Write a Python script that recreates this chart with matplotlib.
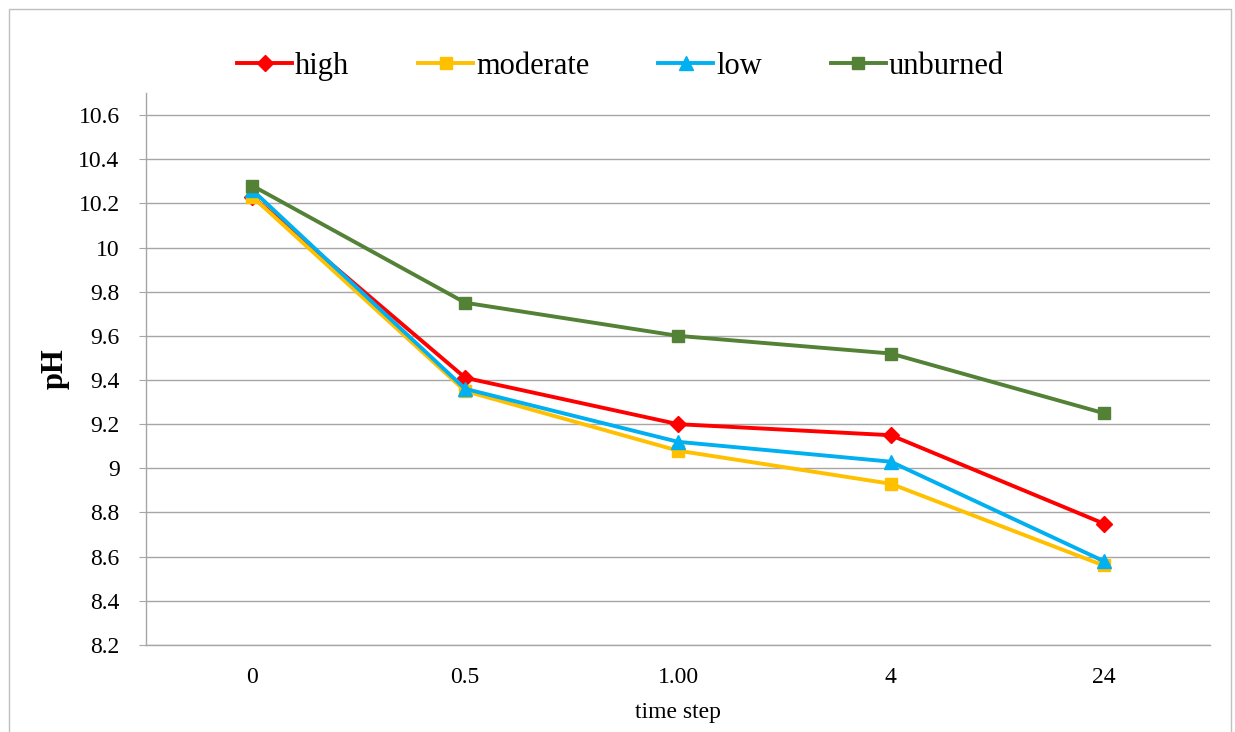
import matplotlib.pyplot as plt
from matplotlib.patches import Rectangle

plt.rcParams['font.family'] = ['Liberation Serif', 'DejaVu Serif']

# data
time_labels = ['0', '0.5', '1.00', '4', '24']
high = [10.23, 9.41, 9.20, 9.15, 8.75]
moderate = [10.23, 9.35, 9.08, 8.93, 8.56]
low = [10.26, 9.36, 9.12, 9.03, 8.58]
unburned = [10.28, 9.75, 9.60, 9.52, 9.25]

series = [
    ('high', high, '#FF0000', 'D', 8),
    ('moderate', moderate, '#FFC000', 's', 9),
    ('low', low, '#00B0F0', '^', 10),
    ('unburned', unburned, '#538135', 's', 9),
]

fig = plt.figure(figsize=(12.35, 7.32), dpi=100)
ax = fig.add_axes([0.1182, 0.1189, 0.8616, 0.7541])

x = list(range(len(time_labels)))
for name, vals, col, mk, ms in series:
    ax.plot(x, vals, color=col, lw=2.8, marker=mk, markersize=ms,
            markerfacecolor=col, markeredgecolor=col, label=name, zorder=3)

ax.set_xlim(-0.5, len(time_labels) - 0.5)
ax.set_ylim(8.2, 10.7)
ax.set_yticks([8.2 + 0.2 * i for i in range(13)])
ax.set_yticklabels(['8.2', '8.4', '8.6', '8.8', '9', '9.2', '9.4', '9.6',
                    '9.8', '10', '10.2', '10.4', '10.6'])
ax.set_xticks(x)
ax.set_xticklabels(time_labels)

ax.grid(axis='y', color='#A6A6A6', lw=1.0)
ax.set_axisbelow(True)
for s in ['top', 'right']:
    ax.spines[s].set_visible(False)
for s in ['left', 'bottom']:
    ax.spines[s].set_color('#A6A6A6')
    ax.spines[s].set_linewidth(1.0)

ax.tick_params(axis='y', length=5, color='#A6A6A6', labelsize=17, pad=14)
ax.tick_params(axis='x', length=0, labelsize=17, pad=16)

ax.set_ylabel('pH', fontsize=22, fontweight='bold', labelpad=6)
ax.set_xlabel('time step', fontsize=17, labelpad=10)

ax.legend(loc='lower center', bbox_to_anchor=(0.446, 1.0), ncol=4,
          frameon=False, fontsize=22, handlelength=1.8, handletextpad=0.1,
          columnspacing=2.25, borderaxespad=0.0)

fig.patches.append(Rectangle((9 / 1235, -0.05), 1222 / 1235, 1 - 9 / 732 + 0.05,
                             transform=fig.transFigure, fill=False,
                             edgecolor='#BFBFBF', lw=1.0))

fig.savefig('out.png', dpi=100)
